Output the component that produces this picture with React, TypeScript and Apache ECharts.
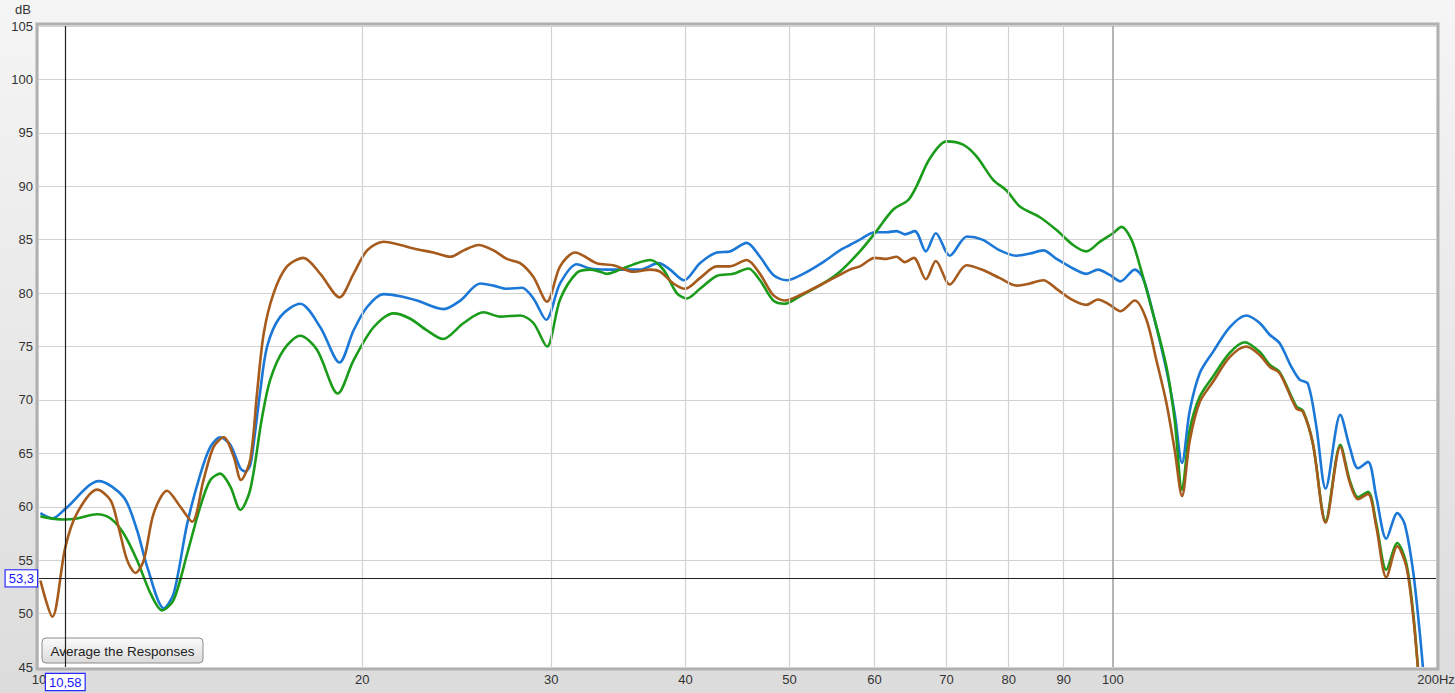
import React, { useEffect, useRef } from "react";
import * as echarts from "echarts";

// Frequency response measurements: [frequency Hz, level dB]
const blueResponse: [number, number][] = [
  [10.03, 59.4], [10.29, 58.9], [10.58, 59.8], [11.37, 62.4], [11.99, 60.9], [12.34, 57.8], [12.61, 54.4],
  [13.07, 50.5], [13.35, 51.9], [13.74, 58.4], [14.13, 63.0], [14.44, 65.6], [14.75, 66.5], [15.07, 65.8],
  [15.4, 63.6], [15.56, 63.3], [15.73, 63.9], [15.85, 66.0], [16.07, 70.8], [16.31, 75.0], [16.78, 77.8],
  [17.51, 79.0], [18.28, 76.8], [19.05, 73.5], [19.63, 76.5], [20.21, 78.7], [20.94, 79.9], [21.7, 79.7],
  [22.49, 79.3], [23.81, 78.5], [24.68, 79.3], [25.76, 80.9], [26.5, 80.7], [27.27, 80.4], [28.17, 80.5],
  [28.87, 79.5], [29.67, 77.5], [30.57, 80.9], [31.69, 82.7], [32.61, 82.3], [33.79, 82.2], [35.02, 82.2],
  [36.29, 82.2], [37.74, 82.8], [38.7, 82.2], [39.87, 81.2], [41.26, 82.8], [42.77, 83.8], [44.01, 83.9],
  [45.61, 84.7], [46.93, 83.4], [48.29, 81.7], [49.69, 81.2], [51.49, 81.8], [53.74, 82.9], [55.7, 84.0],
  [56.91, 84.5], [58.14, 85.0], [60.03, 85.7], [61.56, 85.7], [62.89, 85.8], [64.02, 85.5], [65.41, 85.8],
  [66.98, 83.9], [68.43, 85.6], [70.51, 83.5], [73.17, 85.3], [75.6, 85.0], [78.49, 84.0], [81.36, 83.5],
  [83.72, 83.7], [86.13, 84.0], [88.64, 83.2], [91.85, 82.3], [94.52, 81.8], [96.9, 82.2], [99.36, 81.7],
  [101.67, 81.1], [104.83, 82.2], [106.71, 81.4], [109.02, 78.1], [112.2, 72.8], [114.2, 68.7], [116.01, 64.1],
  [117.96, 69.0], [120.5, 72.5], [123.99, 74.5], [128.49, 76.8], [133.16, 77.9], [137.03, 77.2], [140.0, 76.1],
  [143.04, 75.3], [146.66, 73.1], [149.28, 71.9], [151.98, 71.5], [154.74, 67.5], [157.84, 61.7], [162.9, 68.6],
  [166.2, 65.6], [169.19, 63.6], [172.85, 64.2], [175.98, 60.9], [179.79, 57.0], [184.08, 59.4], [186.99, 58.4],
  [190.34, 54.1], [193.08, 48.4], [194.46, 45.0],
];

const greenResponse: [number, number][] = [
  [10.03, 59.1], [10.55, 58.8], [10.85, 58.9], [11.33, 59.3], [11.66, 58.9], [11.99, 57.5], [12.34, 55.0],
  [12.7, 51.9], [13.02, 50.3], [13.35, 51.3], [13.74, 55.6], [14.13, 60.0], [14.44, 62.5], [14.75, 63.1],
  [15.07, 61.9], [15.4, 59.7], [15.73, 61.6], [16.13, 68.3], [16.42, 71.9], [16.9, 74.7], [17.51, 76.0],
  [18.15, 74.7], [18.98, 70.6], [19.63, 73.7], [20.49, 76.8], [21.39, 78.1], [22.17, 77.6], [22.98, 76.5],
  [23.78, 75.7], [24.86, 77.2], [25.94, 78.2], [26.88, 77.8], [28.06, 77.9], [28.87, 77.2], [29.72, 75.0],
  [30.57, 79.4], [31.69, 81.9], [32.61, 82.2], [33.31, 82.0], [33.79, 81.8], [34.77, 82.2], [36.04, 82.8],
  [37.08, 83.1], [38.15, 82.2], [39.26, 80.0], [40.11, 79.5], [41.26, 80.4], [42.77, 81.6], [44.32, 81.8],
  [45.77, 82.3], [46.93, 81.2], [48.29, 79.3], [49.51, 79.0], [51.12, 79.7], [53.74, 80.9], [55.7, 82.0],
  [58.14, 83.9], [60.03, 85.6], [62.43, 87.8], [64.48, 88.7], [65.65, 90.0], [67.55, 92.6], [70.01, 94.2],
  [72.54, 93.9], [74.67, 92.8], [77.38, 90.6], [79.63, 89.6], [81.94, 88.1], [85.53, 87.1], [88.64, 85.9],
  [91.85, 84.5], [94.52, 83.9], [97.25, 84.8], [100.06, 85.6], [101.89, 86.2], [104.09, 85.0], [105.95, 82.6],
  [108.6, 78.7], [112.2, 73.1], [114.2, 68.1], [116.01, 61.6], [117.96, 67.2], [120.5, 70.3], [123.99, 72.2],
  [128.49, 74.4], [132.7, 75.4], [137.03, 74.5], [140.0, 73.3], [143.04, 72.6], [148.25, 69.4], [150.35, 69.0],
  [153.6, 65.9], [157.84, 58.7], [162.9, 65.8], [166.2, 62.5], [169.19, 60.9], [172.85, 61.4], [175.98, 58.4],
  [179.79, 54.1], [184.08, 56.6], [187.66, 54.7], [190.34, 50.3], [192.37, 45.0],
];

const brownResponse: [number, number][] = [
  [10.03, 53.1], [10.29, 49.7], [10.58, 56.2], [10.85, 59.4], [11.33, 61.6], [11.66, 60.6], [11.86, 58.1],
  [12.08, 55.0], [12.3, 53.8], [12.52, 55.0], [12.79, 59.4], [13.16, 61.5], [13.54, 60.0], [13.89, 58.6],
  [14.23, 62.5], [14.54, 65.6], [14.86, 66.5], [15.18, 64.7], [15.42, 62.5], [15.73, 64.4], [15.96, 70.6],
  [16.19, 76.2], [16.54, 80.0], [17.02, 82.5], [17.63, 83.3], [18.28, 81.8], [19.05, 79.6], [19.63, 81.8],
  [20.21, 84.0], [20.94, 84.8], [21.7, 84.5], [22.49, 84.1], [23.3, 83.8], [24.15, 83.4], [24.86, 84.0],
  [25.67, 84.5], [26.5, 84.0], [27.27, 83.2], [28.06, 82.8], [28.87, 81.5], [29.72, 79.2], [30.57, 82.5],
  [31.57, 83.8], [33.07, 82.8], [34.28, 82.6], [35.78, 82.0], [37.08, 82.2], [37.88, 82.0], [38.98, 80.9],
  [39.96, 80.4], [41.26, 81.4], [42.77, 82.5], [44.01, 82.5], [45.61, 83.1], [46.93, 81.8], [48.29, 79.8],
  [49.51, 79.3], [51.12, 79.8], [53.74, 80.9], [55.7, 81.7], [56.91, 82.2], [58.14, 82.5], [60.03, 83.3],
  [61.56, 83.2], [62.89, 83.4], [64.02, 82.9], [65.27, 83.3], [66.98, 81.3], [68.43, 83.0], [70.51, 80.8],
  [73.07, 82.6], [75.47, 82.2], [78.49, 81.4], [81.36, 80.7], [83.72, 80.9], [86.13, 81.2], [88.64, 80.4],
  [91.2, 79.5], [94.52, 78.9], [96.9, 79.4], [99.36, 78.9], [101.67, 78.3], [104.83, 79.3], [107.49, 77.5],
  [109.82, 73.7], [112.2, 69.7], [114.2, 65.3], [116.01, 61.0], [117.96, 66.2], [120.5, 69.8], [123.99, 71.7],
  [128.49, 74.0], [133.16, 75.0], [137.03, 74.2], [140.0, 73.1], [143.04, 72.5], [148.25, 69.2], [150.35, 68.9],
  [153.6, 65.9], [157.84, 58.5], [162.9, 65.6], [166.2, 62.3], [169.19, 60.7], [172.85, 61.2], [175.98, 58.1],
  [179.79, 53.4], [184.08, 56.3], [187.66, 54.4], [190.34, 50.0], [192.37, 45.0],
];

const xTickFreqs = [10, 20, 30, 40, 50, 60, 70, 80, 90, 100, 200];
const xTickLabels = ["10", "20", "30", "40", "50", "60", "70", "80", "90", "100", "200Hz"];
const yMin = 45;
const yMax = 105;
const yStep = 5;
const yUnit = "dB";
const cursorFreq = 10.58;
const cursorFreqLabel = "10,58";
const cursorLevel = 53.3;
const cursorLevelLabel = "53,3";
const buttonLabel = "Average the Responses";

const FONT = "'Liberation Sans', Arial, sans-serif";

export default function App() {
  const ref = useRef<HTMLDivElement>(null);

  useEffect(() => {
    const chart = echarts.init(ref.current!, null, { renderer: "svg" });

    const gridLines = xTickFreqs.map((f, i) => ({
      xAxis: f,
      lineStyle: {
        color: f === 10 || f === 200 ? "rgba(0,0,0,0)" : f === 100 ? "#9c9c9c" : "#d2d2d2",
        width: f === 100 ? 1.5 : 1.2,
        type: "solid",
      },
      label: {
        show: true,
        position: "start",
        formatter: xTickLabels[i],
        color: "#333",
        fontSize: 13,
        fontFamily: FONT,
        distance: 6,
      },
    }));

    const boxLabel = {
      show: true,
      position: "start",
      color: "#1414ff",
      fontSize: 13,
      fontFamily: FONT,
      backgroundColor: "#ffffff",
      borderColor: "#2a2aff",
      borderWidth: 1.2,
      padding: [2, 3, 1, 3],
    };

    const lineSeries = (name: string, data: [number, number][], color: string, z: number) => ({
      name,
      type: "line",
      data,
      showSymbol: false,
      symbol: "none",
      smooth: 0.3,
      clip: true,
      silent: true,
      z,
      lineStyle: { color, width: 2.6 },
    });

    chart.setOption({
      animation: false,
      backgroundColor: "transparent",
      grid: {
        left: 39,
        top: 26,
        width: 1397,
        height: 641,
        show: true,
        backgroundColor: "#ffffff",
        borderWidth: 0,
      },
      xAxis: {
        type: "log",
        logBase: 10,
        min: 10,
        max: 200,
        axisLine: { show: false },
        axisTick: { show: false },
        axisLabel: { show: false },
        splitLine: { show: false },
      },
      yAxis: {
        type: "value",
        min: yMin,
        max: yMax,
        interval: yStep,
        axisLine: { show: false },
        axisTick: { show: false },
        axisLabel: { color: "#333", fontSize: 13, fontFamily: FONT, margin: 6 },
        splitLine: { lineStyle: { color: "#d2d2d2", width: 1.2 } },
      },
      series: [
        {
          type: "line",
          data: [],
          silent: true,
          z: 1,
          markLine: { silent: true, symbol: "none", animation: false, data: gridLines },
        },
        lineSeries("Blue", blueResponse, "#1c78d6", 3),
        lineSeries("Green", greenResponse, "#1a9c1a", 3),
        lineSeries("Brown", brownResponse, "#a65a1c", 3),
        {
          type: "line",
          data: [],
          silent: true,
          z: 4,
          markLine: {
            silent: true,
            symbol: "none",
            animation: false,
            lineStyle: { color: "#222", width: 1.2, type: "solid" },
            data: [
              { xAxis: cursorFreq, label: { ...boxLabel, formatter: cursorFreqLabel, distance: 7 } },
              { yAxis: cursorLevel, label: { ...boxLabel, formatter: cursorLevelLabel, distance: 2 } },
            ],
          },
        },
      ],
      graphic: [
        {
          type: "rect",
          z: 0,
          silent: true,
          shape: { x: 37, y: 24, width: 1401, height: 645 },
          style: { fill: "none", stroke: "#b0b0b0", lineWidth: 3 },
        },
        {
          type: "text",
          left: 15,
          top: 3,
          silent: true,
          style: { text: yUnit, fill: "#333", font: `13px ${FONT}` },
        },
        {
          type: "group",
          x: 42,
          y: 638,
          z: 10,
          children: [
            {
              type: "rect",
              shape: { x: 0, y: 0, width: 161, height: 25, r: 4 },
              style: {
                fill: new echarts.graphic.LinearGradient(0, 0, 0, 1, [
                  { offset: 0, color: "#fbfbfb" },
                  { offset: 1, color: "#dadada" },
                ]),
                stroke: "#8c8c8c",
                lineWidth: 1,
              },
            },
            {
              type: "text",
              x: 80.5,
              y: 13,
              style: {
                text: buttonLabel,
                fill: "#222",
                font: `13.5px ${FONT}`,
                align: "center",
                verticalAlign: "middle",
              },
            },
          ],
        },
      ],
    });

    return () => chart.dispose();
  }, []);

  return (
    <div
      style={{
        position: "fixed",
        left: 0,
        top: 0,
        width: 1455,
        height: 693,
        background: "linear-gradient(#f5f5f5, #dcdcdc)",
      }}
    >
      <div ref={ref} style={{ width: 1455, height: 693 }} />
    </div>
  );
}
